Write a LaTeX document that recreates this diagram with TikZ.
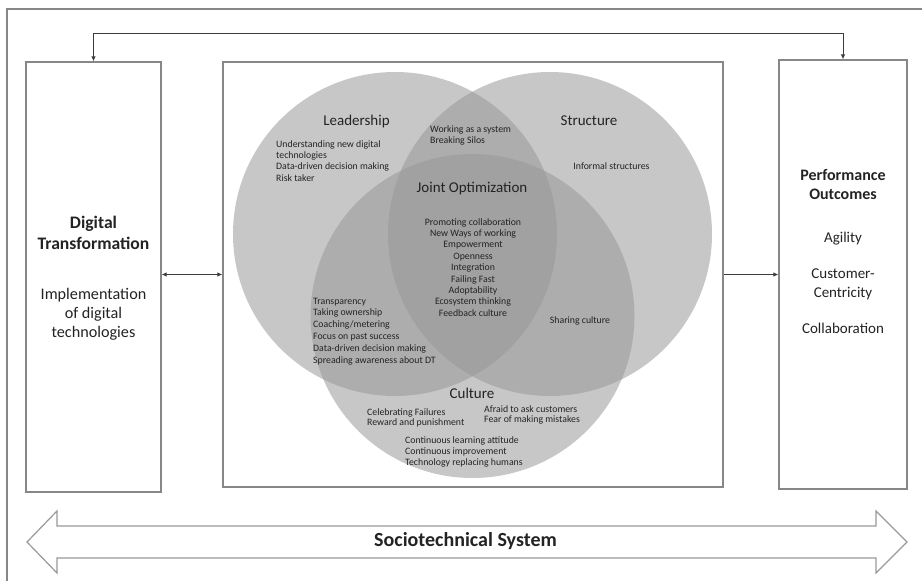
\documentclass[tikz,border=0pt]{standalone}
\usepackage{fontspec}
\setmainfont{Carlito}
\usetikzlibrary{arrows.meta}
\definecolor{boxgray}{RGB}{135,135,135}
\definecolor{venngray}{RGB}{150,150,150}
\definecolor{txt}{RGB}{35,35,35}
\definecolor{arrgray}{RGB}{60,60,60}
\tikzset{mytip/.tip={Latex[length=5pt,width=4.5pt]}}
\begin{document}
\begin{tikzpicture}[x=1pt,y=-1pt,
  frame/.style={draw=boxgray, line width=1.3pt, fill=none},
  boxnode/.style={frame, rectangle, inner sep=0},
  venn/.style={fill=venngray, fill opacity=0.53},
  small/.style={font=\fontsize{9.8}{11.4}\selectfont, text=txt, inner sep=0},
  vlabel/.style={font=\fontsize{15}{18}\selectfont, text=txt, inner sep=0, anchor=base},
  conn/.style={draw=arrgray, line width=0.9pt}
]
\useasboundingbox (0,0) rectangle (922,581);
% outer frame
\draw[frame] (7,581) -- (7,9) -- (922,9);
% boxes
\node[boxnode, minimum width=135, minimum height=430] (dtbox) at (93.5,277) {};
\node[boxnode, minimum width=500, minimum height=425] (venbox) at (473,274.5) {};
\node[boxnode, minimum width=128, minimum height=429] (pobox) at (843,274.5) {};
% circles
\fill[venn] (395,234) circle (162);
\fill[venn] (550,234) circle (162);
\fill[venn] (472.5,316) circle (162);
% connectors
\draw[conn, mytip-mytip] (dtbox.north) -- ++(0,-28) -| (pobox.north);
\draw[conn, mytip-mytip] (dtbox.east |- venbox.west) -- (venbox.west);
\draw[conn, -mytip] (venbox.east) -- (pobox.west);
% left box text (anchor base = baseline of last line)
\node[font=\fontsize{17.6}{21}\selectfont\bfseries, text=txt, align=center, anchor=base, inner sep=0] (dttitle) at (93.5,249.5) {Digital\\Transformation};
\node[font=\fontsize{16.2}{19}\selectfont, text=txt, align=center, anchor=base, inner sep=0] (dttext) at (93.5,337) {Implementation\\of digital\\technologies};
% right box text
\node[font=\fontsize{16}{19}\selectfont\bfseries, text=txt, align=center, anchor=base, inner sep=0] (potitle) at (843,199.5) {Performance\\Outcomes};
\node[font=\fontsize{15}{19}\selectfont, text=txt, align=center, anchor=base, inner sep=0] (agility) at (843,242) {Agility};
\node[font=\fontsize{15}{19}\selectfont, text=txt, align=center, anchor=base, inner sep=0] (custc) at (843,297) {Customer-\\Centricity};
\node[font=\fontsize{15}{19}\selectfont, text=txt, align=center, anchor=base, inner sep=0] (collab) at (843,333) {Collaboration};
% venn labels
\node[vlabel] (lead) at (356.5,125) {Leadership};
\node[vlabel] (struct) at (589,125) {Structure};
\node[vlabel] (joint) at (472,192) {Joint Optimization};
\node[vlabel] (cult) at (472,398) {Culture};
% venn lists
\node[small, align=left, anchor=base west] (ls) at (430,143.4) {Working as a system\\Breaking Silos};
\node[small, align=left, anchor=base west] (ld) at (276,181.2) {Understanding new digital\\technologies\\Data-driven decision making\\Risk taker};
\node[small, align=center, anchor=base] (st) at (611.5,169) {Informal structures};
\node[small, align=center, anchor=base] (jo) at (473,316.2) {Promoting collaboration\\New Ways of working\\Empowerment\\Openness\\Integration\\Failing Fast\\Adoptability\\Ecosystem thinking\\Feedback culture};
\node[small, align=left, anchor=base west, font=\fontsize{9.8}{11.8}\selectfont] (lc) at (313,363) {Transparency\\Taking ownership\\Coaching/metering\\Focus on past success\\Data-driven decision making\\Spreading awareness about DT};
\node[small, align=center, anchor=base] (sc) at (580,323) {Sharing culture};
\node[small, align=left, anchor=base west, font=\fontsize{9.8}{10.5}\selectfont] (cu1) at (367,425.5) {Celebrating Failures\\Reward and punishment};
\node[small, align=left, anchor=base west, font=\fontsize{9.8}{10.8}\selectfont] (cu2) at (484,422.8) {Afraid to ask customers\\Fear of making mistakes};
\node[small, align=left, anchor=base west, font=\fontsize{9.8}{11}\selectfont] (cu3) at (405,465) {Continuous learning attitude\\Continuous improvement\\Technology replacing humans};
% sociotechnical arrow
\draw[draw=boxgray!85, line width=1.2pt, fill=white, line join=miter]
  (27,542) -- (57,511) -- (57,526) -- (876,526) -- (876,511) -- (907,542)
  -- (876,573) -- (876,558) -- (57,558) -- (57,573) -- cycle;
\node[font=\fontsize{20}{22}\selectfont\bfseries, text=txt, anchor=base, inner sep=0] (sts) at (465.5,546.5) {Sociotechnical System};
\end{tikzpicture}
\end{document}
